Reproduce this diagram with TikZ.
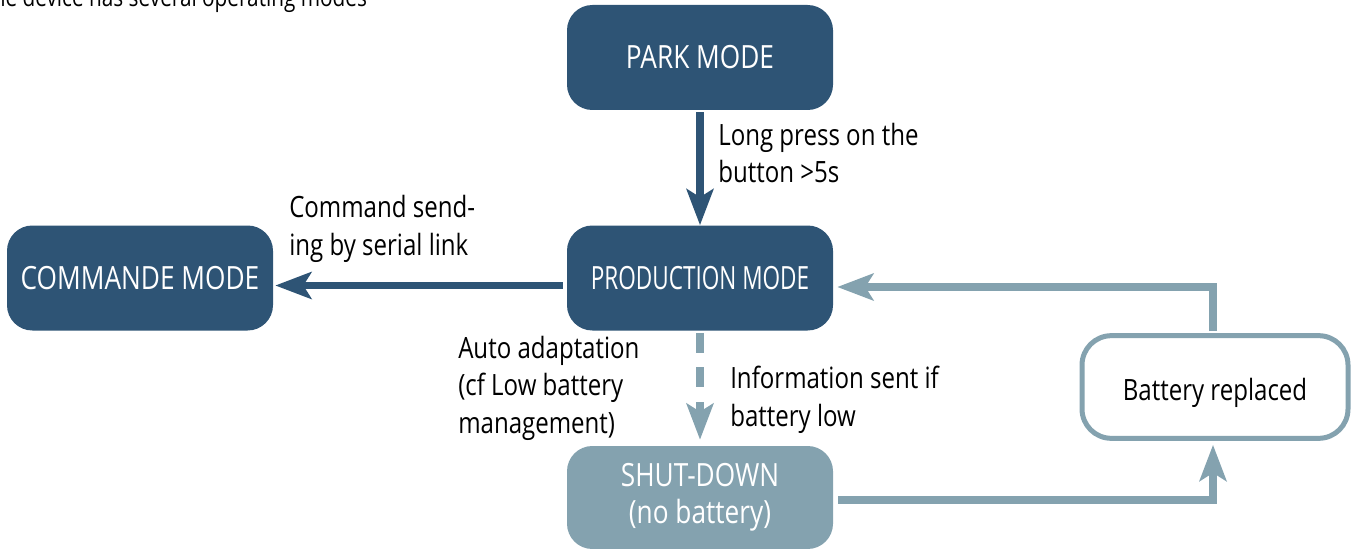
\documentclass[tikz,border=0pt]{standalone}
\usepackage{fontspec}
\setmainfont{Open Sans}[FakeStretch=0.82]
\usetikzlibrary{arrows.meta,calc}
\definecolor{modeblue}{RGB}{46,84,117}
\definecolor{modegrey}{RGB}{132,162,175}

\begin{document}
\begin{tikzpicture}[x=0.75pt,y=-0.75pt,
  modebox/.style={rounded corners=19pt, fill=modeblue, text=white,
    minimum width=199.5pt, minimum height=78.75pt, inner sep=0pt,
    font=\fontsize{24}{28}\selectfont, align=center},
  offbox/.style={modebox, fill=modegrey},
  eventbox/.style={rounded corners=22pt, draw=modegrey, line width=3.75pt,
    fill=white, text=black, minimum width=199.5pt, minimum height=77pt,
    inner sep=0pt, font=\fontsize{22}{28}\selectfont},
  note/.style={anchor=base west, align=left, inner sep=0pt,
    font=\fontsize{22}{28}\selectfont},
  tip/.style={-{Stealth[length=27pt,width=20pt,inset=6pt]}},
  darkflow/.style={tip, draw=modeblue, line width=5.5pt},
  lightflow/.style={tip, draw=modegrey, line width=5.5pt},
]
\useasboundingbox (0,0) rectangle (1356,549);

% caption running off the top-left corner
\node[anchor=base west, inner sep=0pt, font=\fontsize{19}{22}\selectfont]
  (caption) at (-19,7) {The device has several operating modes};

% operating modes
\node[modebox] (park) at (700,57.5) {PARK MODE};
\node[modebox] (prod) at (700,278) {\scalebox{0.86}[1]{PRODUCTION MODE}};
\node[modebox] (cmd)  at (140,278) {COMMANDE MODE};
\node[offbox, minimum height=77.25pt] (shut) at (700,497.5) {SHUT-DOWN\\(no battery)};
\node[eventbox] (bat) at (1215,387) {\raisebox{-9.75pt}[0pt][0pt]{Battery replaced}};

% transitions
\draw[darkflow] ($(park.south)+(0,2)$) -- (prod.north);
\draw[darkflow] ($(prod.west)+(-4,7.5)$) -- ($(cmd.east)+(2,7.5)$);
\draw[lightflow, dash pattern=on 15pt off 11pt] ($(prod.south)+(0,2)$) -- ($(shut.north)+(0,-6)$);
\draw[lightflow] ($(shut.east)+(5,2.5)$) -| ($(bat.south)+(-2,4)$);
\draw[lightflow] ($(bat.north)+(-2,-2)$) |- ($(prod.east)+(4,9)$);

% transition labels (anchored on the baseline of their last line)
\node[note] (lpress) at (718,183) {Long press on the\\button >5s};
\node[note] (serial) at (289,255) {Command send-\\ing by serial link};
\node[note] (auto)   at (458,433) {Auto adaptation\\(cf Low battery\\management)};
\node[note] (info)   at (730,426) {Information sent if\\battery low};
\end{tikzpicture}
\end{document}
